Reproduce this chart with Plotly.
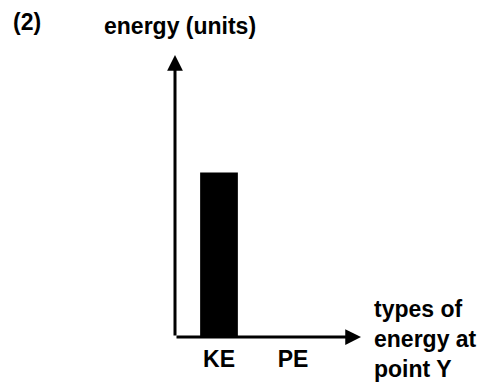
import plotly.graph_objects as go

# Energy bar chart: kinetic vs potential energy at point Y
categories = ["KE", "PE"]
energy_values = [7, 0]
y_axis_top = 12

panel_label = "(2)"
y_title = "energy (units)"
x_title_lines = ["types of", "energy at", "point Y"]

FONT = dict(family="Liberation Sans, Arial, sans-serif", size=23, color="black", weight="bold")

fig = go.Figure(
    go.Bar(
        x=categories,
        y=energy_values,
        width=0.51,
        marker=dict(color="black", line=dict(width=0)),
        hoverinfo="skip",
    )
)

fig.update_layout(
    width=498,
    height=387,
    margin=dict(l=175, r=137, t=55, b=50),
    plot_bgcolor="white",
    paper_bgcolor="white",
    showlegend=False,
    font=FONT,
)

fig.update_xaxes(
    range=[-0.5946, 1.919],
    showgrid=False,
    zeroline=False,
    showline=False,
    ticks="",
    tickfont=FONT,
    ticklabelstandoff=6,
    fixedrange=True,
)
fig.update_yaxes(
    range=[0, y_axis_top],
    showgrid=False,
    zeroline=False,
    showline=False,
    showticklabels=False,
    fixedrange=True,
)

# Axis lines with arrowheads (paper coordinates: origin at 0,0)
plot_w, plot_h = 186, 282
arrow_style = dict(showarrow=True, arrowhead=2, arrowsize=1.05, arrowwidth=3,
                   arrowcolor="black", text="", standoff=0, startstandoff=0)
fig.add_annotation(xref="paper", yref="paper", x=0, y=1, ax=0, ay=plot_h, **arrow_style)
fig.add_annotation(xref="paper", yref="paper", x=1, y=0, ax=-plot_w, ay=0, **arrow_style)


def px_x(px):
    return (px - 175) / plot_w


def px_y(py):
    return (337 - py) / plot_h


text_style = dict(showarrow=False, xref="paper", yref="paper", font=FONT,
                  xanchor="left", yanchor="middle", align="left")
fig.add_annotation(x=px_x(11), y=px_y(22), text=panel_label, **text_style)
fig.add_annotation(x=px_x(102), y=px_y(26), text=y_title, **text_style)
fig.add_annotation(x=px_x(372), y=px_y(339), text="<br>".join(x_title_lines), **text_style)

fig.write_html("out.html")
